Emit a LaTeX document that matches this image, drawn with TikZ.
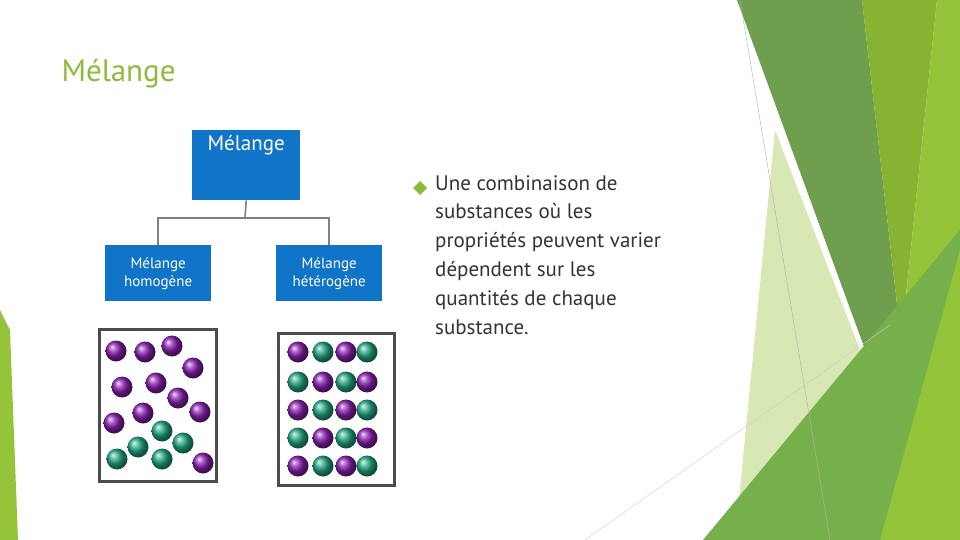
\documentclass[tikz,border=0pt]{standalone}
\usepackage{fontspec}
\setmainfont{PT Sans}
\definecolor{titleg}{HTML}{8DBB3C}
\definecolor{boxblue}{HTML}{1074C8}
\definecolor{pur}{HTML}{8A1FB0}
\definecolor{grn}{HTML}{22A884}
\definecolor{g1}{HTML}{6F9E4F}
\definecolor{g2}{HTML}{86B432}
\definecolor{g3}{HTML}{94C43A}
\definecolor{g4}{HTML}{76B04A}
\definecolor{g5}{HTML}{D7E8B5}
\begin{document}
\begin{tikzpicture}[x=1pt,y=-1pt,
  orgbox/.style={fill=boxblue,text=white,inner sep=0,minimum width=106,minimum height=56,align=center,font=\fontsize{15}{18}\selectfont},
  link/.style={draw=gray,line width=1.6},
  frame/.style={draw=black!70,line width=3},
  pb/.style={circle,minimum size=21,inner sep=0,shade,ball color=pur},
  gb/.style={circle,minimum size=21,inner sep=0,shade,ball color=grn}]
\useasboundingbox (0,0) rectangle (960,540);
% background green shapes
\fill[g5] (775,130) -- (860,350) -- (830,540) -- (735,540) -- cycle;
\fill[g1] (737,0) -- (862,0) -- (900,330) -- (878,385) -- cycle;
\fill[g2] (862,0) -- (937,0) -- (895,400) -- (878,385) -- (900,330) -- cycle;
\fill[g3] (937,0) -- (960,0) -- (960,540) -- (860,540) -- (895,400) -- cycle;
\fill[g4] (703,540) -- (960,230) -- (960,250) -- (880,540) -- cycle;
\draw[gray!60,line width=0.4] (740,0) -- (830,540);
\draw[gray!40,line width=0.4] (585,540) -- (890,325);
\fill[g3] (0,310) -- (10,330) -- (18,540) -- (0,540) -- cycle;
% title
\node[anchor=west,text=titleg,font=\fontsize{31}{36}\selectfont] (title) at (58,74) {Mélange};
% org chart
\node[orgbox,minimum width=108,minimum height=70,font=\fontsize{21}{24}\selectfont,anchor=north west] (top) at (192,130) {Mélange\\[20pt]};
\node[orgbox,anchor=north west] (left) at (105,245) {Mélange\\homogène};
\node[orgbox,anchor=north west] (right) at (276,245) {Mélange\\hétérogène};
\coordinate (j) at (245,218);
\draw[link] (top.south) -- (j);
\draw[link] (left.north) |- (j) -| (right.north);
% bullet text
\fill[titleg] (420,181) -- (427,188) -- (420,195) -- (413,188) -- cycle;
\node[anchor=north west,align=left,text=black!80,font=\fontsize{21}{28.8}\selectfont,inner sep=0] (txt) at (435,175)
{Une combinaison de\\substances où les\\propriétés peuvent varier\\dépendent sur les\\quantités de chaque\\substance.};
% pictures
\node[frame,minimum width=117,minimum height=152,anchor=north west,inner sep=0] (f1) at (98,328) {};
\node[frame,minimum width=116,minimum height=152,anchor=north west,inner sep=0] (f2) at (277,332) {};
\foreach \x/\y in {116/351,145/352,172/346,193/368,122/387,156/383,178/398,200/412,114/423,143/413,203/463}
  \node[pb] at (\x,\y) {};
\foreach \x/\y in {162/431,138/447,183/443,117/459,162/459}
  \node[gb] at (\x,\y) {};
\foreach \y [count=\r] in {352,382,410,438,466}
  \foreach \x [count=\c] in {298,323,346,367} {
    \pgfmathtruncatemacro{\p}{mod(\r+\c,2)}
    \ifnum\p=0 \node[pb] at (\x,\y) {}; \else \node[gb] at (\x,\y) {}; \fi
  }
\end{tikzpicture}
\end{document}
